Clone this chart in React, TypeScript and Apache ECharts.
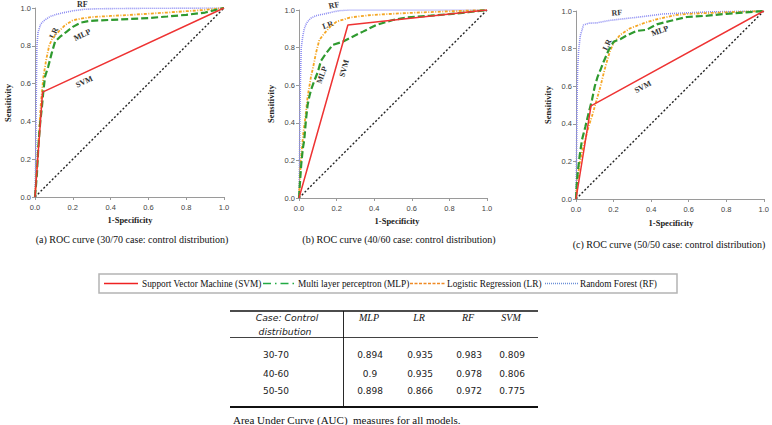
import React, { useEffect, useRef } from "react";
import * as echarts from "echarts";

// ---------- ROC data (1-Specificity, Sensitivity) ----------
const diagonal = [[0, 0], [1, 1]];

const svmA = [[0, 0], [0.04, 0.555], [1, 1]];
const mlpA = [[0, 0], [0.01, 0.12], [0.018, 0.27], [0.028, 0.4], [0.035, 0.46], [0.044, 0.557], [0.053, 0.637], [0.07, 0.69], [0.088, 0.76], [0.106, 0.822], [0.133, 0.848], [0.168, 0.875], [0.2, 0.9], [0.24, 0.922], [0.29, 0.932], [0.4, 0.937], [0.5, 0.942], [0.6, 0.947], [0.7, 0.955], [0.8, 0.964], [0.9, 0.976], [1, 1]];
const lrA = [[0, 0], [0.01, 0.15], [0.02, 0.32], [0.03, 0.48], [0.037, 0.56], [0.045, 0.64], [0.06, 0.73], [0.075, 0.8], [0.09, 0.835], [0.11, 0.86], [0.13, 0.88], [0.16, 0.91], [0.2, 0.935], [0.25, 0.945], [0.3, 0.952], [0.4, 0.958], [0.5, 0.963], [0.6, 0.97], [0.7, 0.976], [0.8, 0.983], [0.9, 0.99], [1, 1]];
const rfA = [[0, 0], [0.004, 0.2], [0.006, 0.45], [0.008, 0.65], [0.01, 0.8], [0.016, 0.87], [0.03, 0.915], [0.05, 0.935], [0.08, 0.955], [0.115, 0.967], [0.15, 0.975], [0.2, 0.985], [0.26, 0.993], [0.33, 0.996], [0.5, 0.998], [0.7, 0.999], [1, 1]];

const svmB = [[0, 0], [0.26, 0.92], [1, 1]];
const mlpB = [[0, 0], [0.005, 0.08], [0.012, 0.18], [0.02, 0.26], [0.028, 0.31], [0.037, 0.416], [0.046, 0.496], [0.055, 0.54], [0.064, 0.575], [0.08, 0.62], [0.1, 0.67], [0.117, 0.73], [0.144, 0.77], [0.18, 0.815], [0.23, 0.83], [0.285, 0.858], [0.34, 0.885], [0.41, 0.92], [0.5, 0.947], [0.57, 0.96], [0.7, 0.97], [0.8, 0.978], [0.9, 0.988], [1, 1]];
const lrB = [[0, 0], [0.01, 0.2], [0.023, 0.345], [0.034, 0.43], [0.046, 0.54], [0.064, 0.646], [0.076, 0.7], [0.09, 0.77], [0.108, 0.84], [0.135, 0.876], [0.17, 0.915], [0.2, 0.938], [0.27, 0.96], [0.37, 0.972], [0.5, 0.98], [0.6, 0.985], [0.8, 0.993], [1, 1]];
const rfB = [[0, 0], [0.003, 0.2], [0.005, 0.45], [0.008, 0.65], [0.012, 0.8], [0.02, 0.86], [0.028, 0.9], [0.04, 0.93], [0.06, 0.955], [0.09, 0.97], [0.14, 0.98], [0.18, 0.99], [0.22, 0.997], [0.27, 1], [1, 1]];

const svmC = [[0, 0], [0.08, 0.495], [1, 1]];
const mlpC = [[0, 0], [0.004, 0.08], [0.009, 0.138], [0.019, 0.226], [0.032, 0.315], [0.05, 0.385], [0.067, 0.456], [0.085, 0.527], [0.1, 0.6], [0.115, 0.65], [0.13, 0.686], [0.147, 0.73], [0.173, 0.79], [0.2, 0.836], [0.235, 0.85], [0.27, 0.87], [0.323, 0.894], [0.376, 0.9], [0.43, 0.929], [0.5, 0.947], [0.59, 0.968], [0.7, 0.975], [0.8, 0.985], [0.9, 0.992], [1, 1]];
const lrC = [[0, 0], [0.008, 0.1], [0.018, 0.18], [0.03, 0.24], [0.04, 0.28], [0.058, 0.35], [0.067, 0.385], [0.085, 0.44], [0.11, 0.527], [0.13, 0.597], [0.147, 0.668], [0.164, 0.73], [0.18, 0.783], [0.2, 0.83], [0.235, 0.873], [0.288, 0.908], [0.36, 0.935], [0.43, 0.956], [0.535, 0.979], [0.6, 0.985], [0.8, 0.993], [1, 1]];
const rfC = [[0, 0], [0.002, 0.15], [0.004, 0.35], [0.006, 0.55], [0.009, 0.7], [0.014, 0.79], [0.023, 0.87], [0.04, 0.925], [0.067, 0.935], [0.11, 0.937], [0.18, 0.95], [0.25, 0.958], [0.32, 0.966], [0.4, 0.976], [0.46, 0.984], [0.59, 0.99], [0.7, 0.995], [0.85, 0.998], [1, 1]];

const captions = [
  "(a) ROC curve (30/70 case: control distribution)",
  "(b) ROC curve (40/60 case: control distribution)",
  "(c) ROC curve (50/50 case: control distribution)",
];
const xAxisTitle = "1-Specificity";
const yAxisTitle = "Sensitivity";

const legendNames = [
  "Support Vector Machine (SVM)",
  "Multi layer perceptron (MLP)",
  "Logistic Regression (LR)",
  "Random Forest (RF)",
];

// curve annotation labels: [grid, text, x, y, rotationDeg]
const annotations: [number, string, number, number, number][] = [
  [0, "RF", 0.25, 1.02, 0],
  [0, "LR", 0.1, 0.868, 65],
  [0, "MLP", 0.25, 0.857, 25],
  [0, "SVM", 0.26, 0.61, 25],
  [1, "RF", 0.186, 1.025, 12],
  [1, "LR", 0.154, 0.92, 20],
  [1, "MLP", 0.122, 0.654, 70],
  [1, "SVM", 0.24, 0.69, 75],
  [2, "RF", 0.218, 0.99, 5],
  [2, "LR", 0.165, 0.82, 65],
  [2, "MLP", 0.447, 0.894, 20],
  [2, "SVM", 0.356, 0.596, 28],
];

// AUC table
const tableHeader = ["MLP", "LR", "RF", "SVM"];
const tableCases = ["30-70", "40-60", "50-50"];
const aucMLP = ["0.894", "0.9", "0.898"];
const aucLR = ["0.935", "0.935", "0.866"];
const aucRF = ["0.983", "0.978", "0.972"];
const aucSVM = ["0.809", "0.806", "0.775"];
const tableCaption = "Area Under Curve (AUC)  measures for all models.";

const SERIF = "Liberation Serif";
const SANS = "DejaVu Sans";

const C_SVM = "#ee3333";
const C_MLP = "#2f9a2f";
const C_LR = "#f5a623";
const C_RF = "#8a8af2";

export default function App() {
  const ref = useRef<HTMLDivElement>(null);

  useEffect(() => {
    const chart = echarts.init(ref.current!, null, { renderer: "svg" });
    const grids = [
      { left: 35, top: 8, width: 189, height: 189 },
      { left: 299, top: 10, width: 188, height: 188 },
      { left: 576, top: 11, width: 188, height: 188 },
    ];
    const sets = [
      [svmA, mlpA, lrA, rfA],
      [svmB, mlpB, lrB, rfB],
      [svmC, mlpC, lrC, rfC],
    ];
    const axisBase = (i: number, isX: boolean) => ({
      type: "value",
      gridIndex: i,
      min: 0,
      max: 1,
      interval: 0.2,
      splitLine: { show: false },
      axisLine: { show: true, lineStyle: { color: "#9a9a9a", width: 1 } },
      axisTick: { show: true, length: 3, lineStyle: { color: "#9a9a9a" } },
      axisLabel: {
        fontSize: 7.5,
        color: "#444",
        fontFamily: "'Liberation Sans Narrow', 'Liberation Sans', Arial, sans-serif",
        margin: isX ? 6 : 4,
        formatter: (v: number) => v.toFixed(1),
      },
    });
    const series: any[] = [];
    sets.forEach(([svm, mlp, lr, rf], i) => {
      const common = { type: "line", xAxisIndex: i, yAxisIndex: i, symbol: "none", silent: true };
      series.push({ ...common, name: "diag", data: diagonal, lineStyle: { color: "#222", width: 1.4, type: [2, 2] } });
      series.push({ ...common, name: "RF", data: rf, lineStyle: { color: C_RF, width: 1.6, type: [1, 1] } });
      series.push({ ...common, name: "LR", data: lr, lineStyle: { color: C_LR, width: 1.8, type: [3, 1.5, 1, 1.5] } });
      series.push({ ...common, name: "MLP", data: mlp, lineStyle: { color: C_MLP, width: 2.2, type: [7, 3] } });
      series.push({ ...common, name: "SVM", data: svm, lineStyle: { color: C_SVM, width: 1.5, type: "solid" } });
    });

    chart.setOption({
      animation: false,
      backgroundColor: "#fff",
      grid: grids,
      xAxis: grids.map((_, i) => axisBase(i, true)),
      yAxis: grids.map((_, i) => axisBase(i, false)),
      series,
    });

    const g: any[] = [];
    const txt = (x: number, y: number, text: string, o: any = {}) => ({
      type: "text",
      x,
      y,
      rotation: o.rotation || 0,
      silent: true,
      style: {
        text,
        fill: o.fill || "#000",
        fontFamily: o.family || SERIF,
        fontSize: o.size || 10,
        fontWeight: o.weight || "normal",
        fontStyle: o.style || "normal",
        textAlign: o.align || "center",
        align: o.align || "center",
        textVerticalAlign: "middle",
        verticalAlign: "middle",
      },
    });

    // axis titles and captions
    const xTitlePos = [[130, 220], [397, 221], [671, 223]];
    const yTitlePos = [[8, 103], [271, 104], [548, 105]];
    const capPos = [[132, 239], [399, 239.5], [669, 244]];
    for (let i = 0; i < 3; i++) {
      g.push(txt(xTitlePos[i][0], xTitlePos[i][1], xAxisTitle, { size: 8.5, weight: "bold", fill: "#222" }));
      g.push(txt(yTitlePos[i][0], yTitlePos[i][1], yAxisTitle, { size: 8.5, weight: "bold", fill: "#222", rotation: Math.PI / 2 }));
      g.push(txt(capPos[i][0], capPos[i][1], captions[i], { size: 10, fill: "#111" }));
    }

    // curve annotations (placed in data coordinates)
    annotations.forEach(([gi, t, x, y, rot]) => {
      const p = chart.convertToPixel({ gridIndex: gi } as any, [x, y]) as number[];
      g.push(txt(p[0], p[1], t, { size: 8, weight: "bold", fill: "#333", rotation: (rot * Math.PI) / 180 }));
    });

    // legend box
    const ly = 283.5;
    g.push({ type: "rect", shape: { x: 99, y: 274, width: 578, height: 19 }, style: { fill: "none", stroke: "#b4b4b4", lineWidth: 1.5 }, silent: true });
    const legendItems = [
      { x1: 104, x2: 138, tx: 142, color: "#ee2222", dash: null, w: 1.5 },
      { x1: 263, x2: 295, tx: 298, color: "#22aa44", dash: [8, 4, 1.5, 4], w: 1.5 },
      { x1: 410, x2: 445, tx: 447, color: "#f08a24", dash: [3, 1.5], w: 1.3 },
      { x1: 545, x2: 578, tx: 580, color: "#6b8fd6", dash: [1, 1], w: 1.3 },
    ];
    legendItems.forEach((it, i) => {
      g.push({
        type: "line",
        silent: true,
        shape: { x1: it.x1, y1: ly, x2: it.x2, y2: ly },
        style: { stroke: it.color, lineWidth: it.w, lineDash: it.dash || undefined },
      });
      g.push(txt(it.tx, ly, legendNames[i], { size: 9.3, fill: "#111", align: "left" }));
    });

    // AUC table
    const hline = (y: number, w: number) => ({ type: "line", silent: true, shape: { x1: 230, y1: y, x2: 538, y2: y }, style: { stroke: "#111", lineWidth: w } });
    g.push(hline(311, 1.3));
    g.push(hline(337.5, 0.8));
    g.push(hline(407, 2));
    g.push({ type: "line", silent: true, shape: { x1: 343.5, y1: 311, x2: 343.5, y2: 407 }, style: { stroke: "#111", lineWidth: 0.9 } });
    g.push(txt(287, 317, "Case: Control", { family: SANS, size: 9.3, style: "italic", fill: "#222" }));
    g.push(txt(285, 331.5, "distribution", { family: SANS, size: 9.3, style: "italic", fill: "#222" }));
    const colX = [369, 419, 468, 511];
    const rowY = [354.5, 374, 391];
    tableHeader.forEach((h, j) => g.push(txt(colX[j], 317, h, { size: 10, style: "italic", fill: "#111" })));
    const cols = [aucMLP, aucLR, aucRF, aucSVM];
    tableCases.forEach((c, r) => {
      g.push(txt(276, rowY[r], c, { family: SANS, size: 9, fill: "#222" }));
      cols.forEach((col, j) => g.push(txt(colX[j] + 1, rowY[r], col[r], { family: SANS, size: 9, fill: "#222" })));
    });
    g.push(txt(233, 419.5, tableCaption, { size: 11, fill: "#111", align: "left" }));

    chart.setOption({ graphic: g });

    return () => chart.dispose();
  }, []);

  return (
    <div
      ref={ref}
      style={{ position: "absolute", left: 0, top: 0, width: 772, height: 425, background: "#fff" }}
    />
  );
}
